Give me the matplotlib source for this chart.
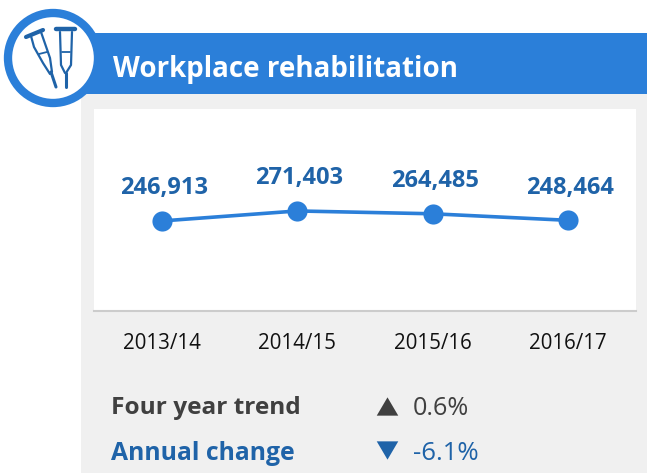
import matplotlib
matplotlib.use("Agg")
import matplotlib.pyplot as plt
from matplotlib.patches import Rectangle, Circle

plt.rcParams['font.family'] = ['Open Sans', 'DejaVu Sans']

years = ["2013/14", "2014/15", "2015/16", "2016/17"]
values = [246913, 271403, 264485, 248464]
trend_label = "Four year trend"
trend_value = "0.6%"
annual_label = "Annual change"
annual_value = "-6.1%"
title = "Workplace rehabilitation"

BLUE = "#2b7fd9"
DARK_BLUE = "#1f63a8"
GREY = "#f0f0f0"
TEXT = "#404040"

W, H = 647, 473
fig = plt.figure(figsize=(W / 100, H / 100), dpi=100, facecolor="white")

# background layer in pixel coords, y going down like the picture
bg = fig.add_axes([0, 0, 1, 1], zorder=0)
bg.set_xlim(0, W)
bg.set_ylim(H, 0)
bg.axis("off")
bg.add_patch(Rectangle((81, 94), W - 81, H - 94, color=GREY, lw=0))
bg.add_patch(Rectangle((81, 33), W - 81, 61, color=BLUE, lw=0))
bg.add_patch(Circle((53, 58), 45, fc="white", ec=BLUE, lw=6))
bg.text(113, 69, title, color="white", fontsize=20, fontweight="bold", va="center", ha="left")

# crutches
left_crutch = [
    ([26, 43], [37, 30], 3.0),
    ([31, 34, 43, 50], [36, 47, 63, 74], 1.6),
    ([41, 50, 52], [32, 58, 72], 1.6),
    ([39, 47], [54, 52], 1.3),
    ([51, 56], [72, 87], 2.2),
]
right_crutch = [
    ([56, 75], [29, 29], 3.2),
    ([60, 61, 65], [32, 65, 73], 1.6),
    ([72, 71, 66], [32, 65, 73], 1.6),
    ([62, 70], [52, 52], 1.3),
    ([65.5, 65.5], [73, 87], 2.2),
]
for xs, ys, lw in left_crutch + right_crutch:
    bg.plot(xs, ys, color=DARK_BLUE, lw=lw, solid_capstyle="round")

# chart
ax = fig.add_axes([94 / W, 1 - 311 / H, 542 / W, 202 / H], zorder=1)
ax.plot(years, values, color=BLUE, lw=2.6, marker="o", ms=14.5, mew=0)
ax.set_xlim(-0.5, 3.5)
ax.set_ylim(26500, 521000)
ax.set_yticks([])
ax.tick_params(axis="x", length=0, pad=16, labelsize=14.8, labelcolor="#111111")
for s in ["top", "left", "right"]:
    ax.spines[s].set_visible(False)
ax.spines["bottom"].set_color("#cccccc")
ax.spines["bottom"].set_linewidth(1.5)
for i, v in enumerate(values):
    ax.annotate(f"{v:,}", (i, v), xytext=(1.5, 23.5), textcoords="offset points",
                ha="center", va="center", color=DARK_BLUE, fontsize=17, fontweight="bold")

# summary rows
up_tri = [(-1, -0.85), (1, -0.85), (0, 0.85)]
down_tri = [(-1, 0.85), (1, 0.85), (0, -0.85)]
bg.text(111, 408, trend_label, color=TEXT, fontsize=17.6, fontweight="bold", va="center")
bg.plot(387, 406, marker=up_tri, ms=15.5, color=TEXT, mew=0)
bg.text(413, 408, trend_value, color=TEXT, fontsize=18.2, va="center")
bg.text(111, 453, annual_label, color=DARK_BLUE, fontsize=17.8, fontweight="bold", va="center")
bg.plot(387, 450, marker=down_tri, ms=15.5, color=DARK_BLUE, mew=0)
bg.text(413, 453, annual_value, color=DARK_BLUE, fontsize=18.5, va="center")

fig.savefig("out.png", dpi=100)
